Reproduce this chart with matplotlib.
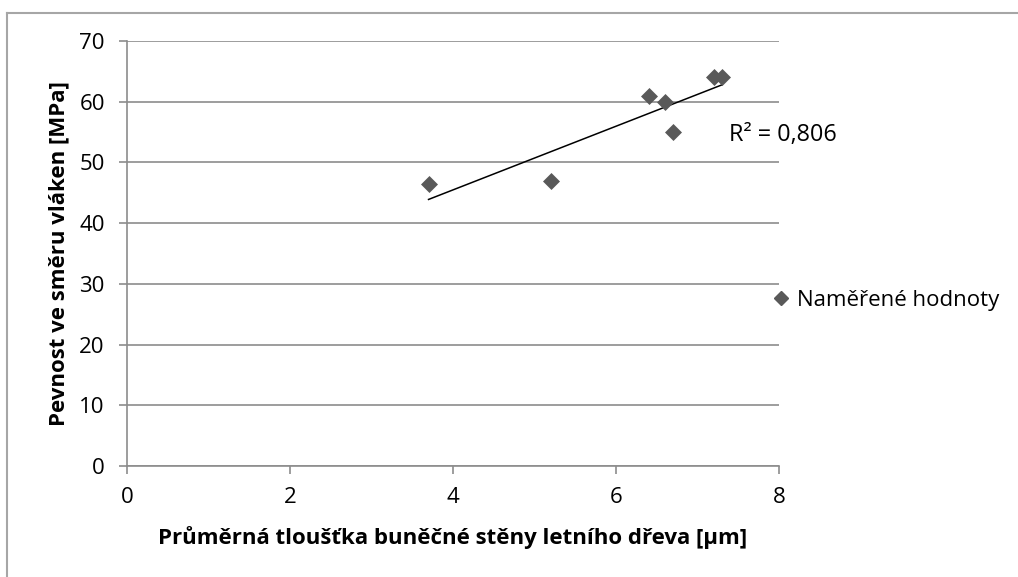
import numpy as np
import matplotlib
matplotlib.use("Agg")
import matplotlib.pyplot as plt
from matplotlib.lines import Line2D

plt.rcParams['font.family'] = ['Open Sans', 'DejaVu Sans']

# Measured values
thickness = [3.7, 5.2, 6.4, 6.6, 6.7, 7.2, 7.3]        # µm
strength = [46.5, 47.0, 61.0, 60.0, 55.0, 64.0, 64.0]  # MPa
r2_label = "R² = 0,806"
series_name = "Naměřené hodnoty"
x_ticks = [0, 2, 4, 6, 8]
y_ticks = [0, 10, 20, 30, 40, 50, 60, 70]

W, H = 1018, 577
fig = plt.figure(figsize=(W / 100, H / 100), dpi=100)
ax = fig.add_axes([127 / W, 1 - 466 / H, (779 - 127) / W, (466 - 41) / H])

grid_c = "#8c8c8c"
mk_c = "#595959"

ax.scatter(thickness, strength, marker="D", s=75, color=mk_c, zorder=3, linewidths=0)

# Linear trendline over the data range
coef = np.polyfit(thickness, strength, 1)
xs = np.array([min(thickness), max(thickness)])
ax.plot(xs, np.polyval(coef, xs), color="black", lw=1.1, zorder=2)

ax.text(7.39, 54.6, r2_label, fontsize=16.8, va="center", ha="left")

ax.set_xlim(0, 8)
ax.set_ylim(0, 70)
ax.set_xticks(x_ticks)
ax.set_yticks(y_ticks)
ax.yaxis.grid(True, color=grid_c, lw=1.2)
ax.set_axisbelow(True)
for s in ("top", "right"):
    ax.spines[s].set_visible(False)
for s in ("left", "bottom"):
    ax.spines[s].set_color(grid_c)
    ax.spines[s].set_linewidth(1.2)
ax.tick_params(axis="both", colors=grid_c, length=6, width=1.2, labelsize=16,
               labelcolor="black")
ax.tick_params(axis="x", pad=9)
ax.tick_params(axis="y", pad=10)

ax.set_xlabel("Průměrná tloušťka buněčné stěny letního dřeva [µm]",
              fontsize=16, fontweight="bold", labelpad=13)
ax.set_ylabel("Pevnost ve směru vláken [MPa]", fontsize=16, fontweight="bold",
              labelpad=7)

handle = Line2D([], [], marker="D", ls="none", color=mk_c, markersize=7)
fig.legend([handle], [series_name], loc="center left",
           bbox_to_anchor=(755 / W, 1 - 300 / H), frameon=False, fontsize=16,
           handletextpad=0.0, borderaxespad=0, handlelength=1.5)

# Outer chart frame (top and left edges)
fig.add_artist(Line2D([7 / W, 1], [1 - 13 / H, 1 - 13 / H], transform=fig.transFigure,
                      color="#a6a6a6", lw=1.5))
fig.add_artist(Line2D([7 / W, 7 / W], [0, 1 - 13 / H], transform=fig.transFigure,
                      color="#a6a6a6", lw=1.5))

fig.savefig("out.png", dpi=100)
